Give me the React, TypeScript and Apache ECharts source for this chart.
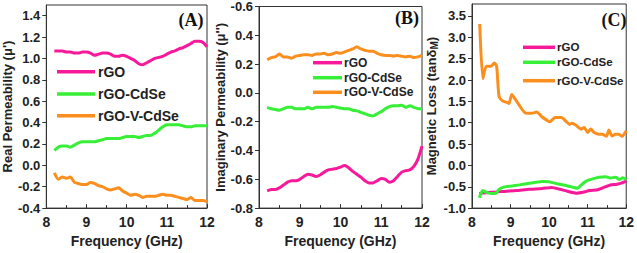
import React, { useEffect, useRef } from "react";
import * as echarts from "echarts";

// ---------- data ----------
const freq = [8.2, 8.3, 8.4, 8.5, 8.6, 8.7, 8.8, 8.9, 9.0, 9.1, 9.2, 9.3, 9.4, 9.5, 9.6, 9.7, 9.8, 9.9, 10.0, 10.1, 10.2, 10.3, 10.4, 10.5, 10.6, 10.7, 10.8, 10.9, 11.0, 11.1, 11.2, 11.3, 11.4, 11.5, 11.6, 11.7, 11.8, 11.9, 12.0];

// Panel A: real permeability
const aRGO = [1.07, 1.07, 1.07, 1.06, 1.06, 1.05, 1.05, 1.06, 1.06, 1.05, 1.03, 1.04, 1.05, 1.05, 1.04, 1.02, 1.02, 1.03, 1.02, 1.0, 0.98, 0.95, 0.94, 0.96, 0.98, 1.0, 1.01, 1.02, 1.04, 1.06, 1.07, 1.09, 1.1, 1.12, 1.14, 1.16, 1.16, 1.15, 1.11];
const aCdSe = [0.14, 0.17, 0.18, 0.18, 0.17, 0.19, 0.21, 0.22, 0.22, 0.22, 0.22, 0.23, 0.24, 0.25, 0.25, 0.25, 0.25, 0.26, 0.27, 0.27, 0.27, 0.26, 0.27, 0.28, 0.28, 0.3, 0.33, 0.36, 0.38, 0.38, 0.38, 0.38, 0.37, 0.36, 0.36, 0.37, 0.37, 0.37, 0.37];
const aVCdSe = [-0.07, -0.13, -0.11, -0.12, -0.11, -0.16, -0.17, -0.18, -0.18, -0.16, -0.17, -0.19, -0.2, -0.22, -0.23, -0.22, -0.21, -0.24, -0.26, -0.28, -0.27, -0.28, -0.3, -0.29, -0.29, -0.29, -0.28, -0.27, -0.28, -0.28, -0.29, -0.3, -0.31, -0.32, -0.3, -0.33, -0.33, -0.33, -0.34];

// Panel B: imaginary permeability
const bRGO = [-0.68, -0.67, -0.67, -0.66, -0.64, -0.62, -0.61, -0.61, -0.6, -0.58, -0.565, -0.57, -0.58, -0.57, -0.55, -0.535, -0.53, -0.525, -0.515, -0.505, -0.52, -0.545, -0.565, -0.585, -0.61, -0.625, -0.625, -0.61, -0.595, -0.6, -0.62, -0.61, -0.58, -0.55, -0.54, -0.535, -0.51, -0.46, -0.37];
const bCdSe = [-0.1, -0.11, -0.115, -0.12, -0.11, -0.1, -0.1, -0.11, -0.11, -0.11, -0.1, -0.11, -0.1, -0.1, -0.1, -0.1, -0.095, -0.1, -0.105, -0.11, -0.11, -0.12, -0.125, -0.135, -0.145, -0.155, -0.16, -0.145, -0.13, -0.11, -0.095, -0.09, -0.09, -0.085, -0.1, -0.09, -0.1, -0.11, -0.11];
const bVCdSe = [0.23, 0.245, 0.25, 0.27, 0.25, 0.25, 0.24, 0.255, 0.26, 0.265, 0.265, 0.26, 0.27, 0.27, 0.275, 0.265, 0.27, 0.28, 0.275, 0.285, 0.295, 0.305, 0.32, 0.305, 0.295, 0.29, 0.29, 0.275, 0.265, 0.26, 0.26, 0.255, 0.26, 0.255, 0.25, 0.255, 0.245, 0.25, 0.26];

// Panel C: magnetic loss
const cRGOFreq = [8.19, 8.47, 8.8, 9.14, 9.48, 9.82, 10.07, 10.28, 10.49, 10.71, 10.88, 11.05, 11.26, 11.42, 11.59, 11.76, 11.89, 12.0];
const cRGO = [-0.66, -0.63, -0.61, -0.59, -0.56, -0.54, -0.515, -0.56, -0.61, -0.65, -0.63, -0.59, -0.57, -0.515, -0.46, -0.44, -0.41, -0.37];
const cCdSeFreq = [8.19, 8.28, 8.38, 8.51, 8.62, 8.7, 8.8, 9.01, 9.23, 9.44, 9.65, 9.82, 9.99, 10.2, 10.41, 10.62, 10.73, 10.83, 10.96, 11.13, 11.3, 11.47, 11.59, 11.72, 11.83, 11.91, 12.0];
const cCdSe = [-0.76, -0.59, -0.63, -0.66, -0.65, -0.56, -0.515, -0.485, -0.456, -0.426, -0.397, -0.375, -0.382, -0.43, -0.463, -0.51, -0.537, -0.463, -0.368, -0.316, -0.279, -0.265, -0.294, -0.279, -0.33, -0.29, -0.33];
const cVCdSeFreq = [8.2, 8.28, 8.37, 8.49, 8.58, 8.64, 8.7, 8.79, 8.89, 8.96, 9.03, 9.13, 9.21, 9.38, 9.55, 9.68, 9.81, 9.94, 10.02, 10.15, 10.32, 10.45, 10.53, 10.6, 10.7, 10.83, 10.91, 11.0, 11.08, 11.17, 11.3, 11.38, 11.49, 11.55, 11.63, 11.72, 11.8, 11.89, 12.0];
const cVCdSe = [3.31, 2.03, 2.32, 2.32, 2.4, 2.32, 1.62, 1.51, 1.48, 1.45, 1.66, 1.54, 1.43, 1.23, 1.22, 1.25, 1.14, 1.06, 1.02, 1.12, 1.12, 1.02, 0.96, 0.99, 0.94, 0.85, 0.89, 0.77, 0.85, 0.77, 0.73, 0.73, 0.68, 0.83, 0.69, 0.73, 0.73, 0.68, 0.81];

const seriesNames = ["rGO", "rGO-CdSe", "rGO-V-CdSe"];
const xTicks = [8, 9, 10, 11, 12];

const PINK = "#f8199b";
const GREEN = "#36ef36";
const ORANGE = "#fb8e1d";
const colors = [PINK, GREEN, ORANGE];

const FONT = "'Liberation Sans', Arial, sans-serif";
const AXIS_COLOR = "#333";

const zip = (xs: number[], ys: number[]) => xs.map((x, i) => [x, ys[i]]);

export default function App() {
  const ref = useRef<HTMLDivElement>(null);
  useEffect(() => {
    if (!ref.current) return;
    const chart = echarts.init(ref.current, undefined, { renderer: "svg" });

    const grids = [
      { left: 39, top: 5, width: 168, height: 207 },
      { left: 259, top: 6, width: 163, height: 204 },
      { left: 472, top: 4, width: 157, height: 205.5 },
    ].map((g) => ({ ...g, show: true, borderColor: AXIS_COLOR, borderWidth: 1, backgroundColor: "transparent" }));

    const xAxes = [0, 1, 2].map((i) => ({
      type: "value",
      gridIndex: i,
      min: 8,
      max: 12,
      interval: 1,
      name: "Frequency (GHz)",
      nameLocation: "middle",
      nameGap: 21,
      nameTextStyle: { fontFamily: FONT, fontWeight: "bold", fontSize: 14, color: "#222" },
      axisLine: { show: true, onZero: false, lineStyle: { color: AXIS_COLOR, width: 1 } },
      axisTick: { show: true, inside: true, length: 4, lineStyle: { color: AXIS_COLOR } },
      minorTick: { show: true, splitNumber: 2, length: 3, lineStyle: { color: AXIS_COLOR } },
      axisLabel: {
        margin: 7,
        fontFamily: FONT,
        fontWeight: "bold",
        fontSize: 14,
        color: "#222",
        formatter: (v: number) => (xTicks.includes(v) ? String(v) : ""),
      },
      splitLine: { show: false },
    }));

    const yBase = {
      type: "value",
      nameLocation: "middle",
      nameRotate: 90,
      axisLine: { show: true, onZero: false, lineStyle: { color: AXIS_COLOR, width: 1 } },
      axisTick: { show: true, inside: false, length: 4, lineStyle: { color: AXIS_COLOR } },
      splitLine: { show: false },
    };
    const yLabel = { margin: 6, fontFamily: FONT, fontWeight: "bold", fontSize: 13, color: "#222" };
    const yName = { fontFamily: FONT, fontWeight: "bold", fontSize: 13, color: "#222" };

    const yAxes = [
      {
        ...yBase,
        gridIndex: 0,
        min: -0.4,
        max: 1.5,
        interval: 0.2,
        name: "Real Permeability (μ')",
        nameGap: 23,
        nameTextStyle: yName,
        axisLabel: { ...yLabel, showMaxLabel: false, formatter: (v: number) => v.toFixed(1) },
      },
      {
        ...yBase,
        gridIndex: 1,
        min: -0.8,
        max: 0.6,
        interval: 0.2,
        name: "Imaginary Permeability (μ'')",
        nameGap: 26,
        nameTextStyle: yName,
        axisLabel: { ...yLabel, formatter: (v: number) => (Math.abs(v - 0.6) < 1e-6 ? "-0.6" : v.toFixed(1)) },
      },
      {
        ...yBase,
        gridIndex: 2,
        min: -1,
        max: 3.78,
        interval: 0.5,
        name: "{a|Magnetic Loss (tanδ}{s|M}{a|)}",
        nameGap: 26,
        nameTextStyle: {
          ...yName,
          rich: {
            a: { fontFamily: FONT, fontWeight: "bold", fontSize: 13, color: "#222" },
            s: { fontFamily: FONT, fontWeight: "bold", fontSize: 10, color: "#222", padding: [6, 0, 0, 0] },
          },
        },
        axisLabel: { ...yLabel, showMaxLabel: false, formatter: (v: number) => v.toFixed(1) },
      },
    ];

    const mk = (name: string, idx: number, data: number[][], color: string) => ({
      name,
      type: "line",
      xAxisIndex: idx,
      yAxisIndex: idx,
      data,
      showSymbol: false,
      symbol: "none",
      smooth: 0.2,
      lineStyle: { color, width: 3 },
      itemStyle: { color },
    });

    const series = [
      mk("rGO", 0, zip(freq, aRGO), PINK),
      mk("rGO-CdSe", 0, zip(freq, aCdSe), GREEN),
      mk("rGO-V-CdSe", 0, zip(freq, aVCdSe), ORANGE),
      mk("rGO", 1, zip(freq, bRGO), PINK),
      mk("rGO-CdSe", 1, zip(freq, bCdSe), GREEN),
      mk("rGO-V-CdSe", 1, zip(freq, bVCdSe), ORANGE),
      mk("rGO", 2, zip(cRGOFreq, cRGO), PINK),
      mk("rGO-CdSe", 2, zip(cCdSeFreq, cCdSe), GREEN),
      mk("rGO-V-CdSe", 2, zip(cVCdSeFreq, cVCdSe), ORANGE),
    ];

    const legendSpecs = [
      { x1: 57, x2: 95, tx: 98, ys: [71.7, 94, 115.7], size: 14 },
      { x1: 313, x2: 342, tx: 344, ys: [62.7, 77.7, 92.3], size: 12 },
      { x1: 523, x2: 555, tx: 557, ys: [47.3, 62.3, 80.7], size: 11.5 },
    ];
    const graphic: any[] = [];
    legendSpecs.forEach((l) => {
      seriesNames.forEach((n, i) => {
        graphic.push({
          type: "line",
          shape: { x1: l.x1, y1: l.ys[i], x2: l.x2, y2: l.ys[i] },
          style: { stroke: colors[i], lineWidth: 3.5 },
        });
        graphic.push({
          type: "text",
          x: l.tx,
          y: l.ys[i],
          style: { text: n, font: `bold ${l.size}px ${FONT}`, fill: "#222", verticalAlign: "middle", align: "left" },
        });
      });
    });
    const panelLabels = [
      { t: "(A)", x: 191, y: 20 },
      { t: "(B)", x: 407, y: 18 },
      { t: "(C)", x: 614, y: 20 },
    ];
    panelLabels.forEach((p) =>
      graphic.push({
        type: "text",
        x: p.x,
        y: p.y,
        style: {
          text: p.t,
          font: "bold 18px 'Liberation Serif', 'Times New Roman', serif",
          fill: "#111",
          align: "center",
          verticalAlign: "middle",
        },
      })
    );

    chart.setOption({
      animation: false,
      backgroundColor: "#ffffff",
      grid: grids,
      xAxis: xAxes,
      yAxis: yAxes,
      series,
      graphic,
    });
    return () => chart.dispose();
  }, []);
  return <div ref={ref} style={{ position: "absolute", left: 0, top: 0, width: 637, height: 253 }} />;
}
